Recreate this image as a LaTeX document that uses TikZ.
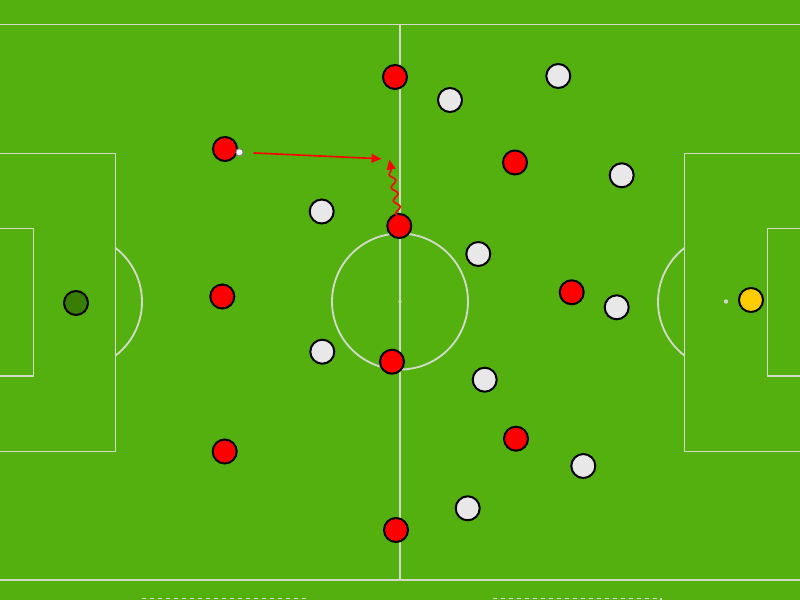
\documentclass[tikz,border=0pt]{standalone}
\usetikzlibrary{arrows.meta,decorations.pathmorphing}
\definecolor{grass}{RGB}{83,176,14}
\definecolor{chalk}{RGB}{208,218,198}
\definecolor{shirtred}{RGB}{255,0,0}
\definecolor{shirtwhite}{RGB}{232,232,232}
\definecolor{keepergreen}{RGB}{56,125,4}
\definecolor{keeperyellow}{RGB}{255,204,0}
\tikzset{
  pitchline/.style={draw=chalk, line width=1.4pt},
  player/.style={circle, draw=black, line width=1.5pt, minimum size=18pt, inner sep=0pt},
  redp/.style={player, fill=shirtred},
  whitep/.style={player, fill=shirtwhite},
  ballnode/.style={circle, draw=gray, fill=white, line width=0.8pt, minimum size=5.5pt, inner sep=0pt},
  passline/.style={draw=shirtred, line width=1.2pt, -{Triangle[length=7.5pt,width=6.5pt]}},
  runline/.style={draw=shirtred, line width=1.2pt, -{Triangle[length=7.5pt,width=6.5pt]}, decorate,
    decoration={snake, amplitude=2.2pt, segment length=10pt, pre length=1pt, post length=7pt}}
}
\begin{document}
\begin{tikzpicture}[x=0.75pt,y=0.75pt,yscale=-1,xscale=1]
\useasboundingbox (0,0) rectangle (800,600);
\fill[grass] (0,0) rectangle (800,600);
\draw[pitchline] (0,24.5) -- (800,24.5) ;
\draw[pitchline] (0,580) -- (800,580) ;
\draw[pitchline] (400,24.5) -- (400,580) ;
\draw[pitchline] (400,301.5) circle [radius=68] ;
\fill[chalk] (400,301.5) circle [radius=1.8] ;
\draw[pitchline] (0,153.5) -- (115.5,153.5) -- (115.5,451.5) -- (0,451.5) ;
\draw[pitchline] (0,228.5) -- (33.5,228.5) -- (33.5,376) -- (0,376) ;
\draw[pitchline] (115.5,247.9) arc [start angle=-52.4, end angle=52.4, radius=68] ;
\draw[pitchline] (800,153.5) -- (684.5,153.5) -- (684.5,451.5) -- (800,451.5) ;
\draw[pitchline] (800,228.5) -- (767.5,228.5) -- (767.5,376) -- (800,376) ;
\draw[pitchline] (684.5,247.9) arc [start angle=232.4, end angle=127.6, radius=68] ;
\fill[chalk] (726,301.5) circle [radius=2.2] ;
\draw[chalk, line width=1pt, dashed] (141,606) -- (141,598.5) -- (308,598.5) -- (308,606) ;
\draw[chalk, line width=1pt, dashed] (492,606) -- (492,598.5) -- (661,598.5) -- (661,606) ;
\node[player, fill=keepergreen] (gkleft) at (76,303) {};
\node[player, fill=keeperyellow] (gkright) at (751,300) {};
\node[redp] (red1) at (395,77) {};
\node[redp] (red2) at (225,149) {};
\node[redp] (red3) at (515,162.5) {};
\node[redp] (red4) at (399.3,226) {};
\node[redp] (red5) at (222.3,296.5) {};
\node[redp] (red6) at (571.7,292.3) {};
\node[redp] (red7) at (392,361.7) {};
\node[redp] (red8) at (516,438.7) {};
\node[redp] (red9) at (224.7,451.5) {};
\node[redp] (red10) at (396,530) {};
\node[whitep] (white1) at (558.3,76) {};
\node[whitep] (white2) at (450,100) {};
\node[whitep] (white3) at (621.7,175.3) {};
\node[whitep] (white4) at (321.7,211.5) {};
\node[whitep] (white5) at (478.3,254) {};
\node[whitep] (white6) at (616.7,307.3) {};
\node[whitep] (white7) at (322.3,351.7) {};
\node[whitep] (white8) at (484.7,379.7) {};
\node[whitep] (white9) at (583.3,466) {};
\node[whitep] (white10) at (467.7,508.3) {};
\node[ballnode] (ball) at (239.5,152.3) {};
\coordinate (passend) at (381.5,158.8) ;
\coordinate (runend) at (389.5,159.5) ;
\draw[passline, shorten <=7.5pt] (ball) -- (passend) ;
\draw[runline] ([yshift=4.5pt]red4.north) -- (runend) ;
\end{tikzpicture}
\end{document}
